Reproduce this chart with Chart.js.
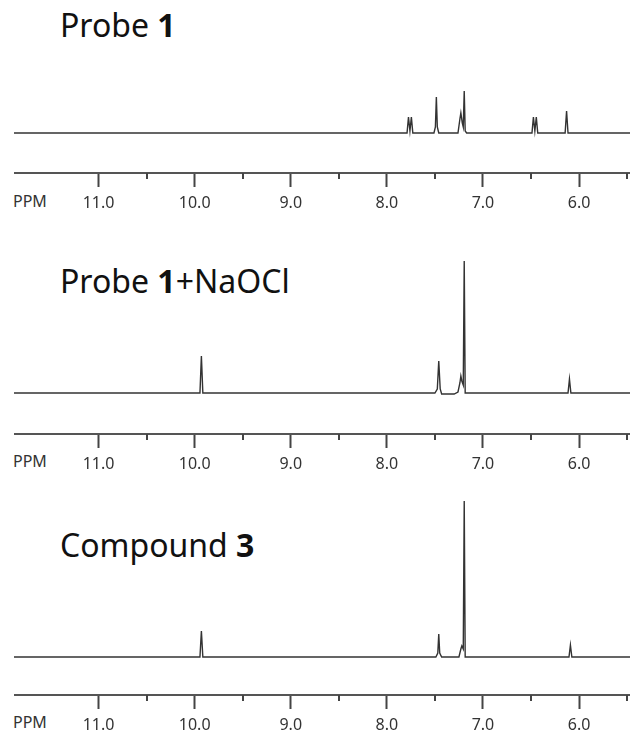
<!DOCTYPE html>
<html>
<head>
<meta charset="utf-8">
<script src="https://cdn.jsdelivr.net/npm/chart.js@4.4.1/dist/chart.umd.min.js"></script>
<style>
body{margin:0;background:#fff;width:630px;height:733px;overflow:hidden;position:relative;font-family:"Noto Sans",sans-serif;}
canvas{position:absolute;left:14px;}
.title{position:absolute;left:60px;font-size:32px;line-height:32px;color:#111;white-space:nowrap;}
.title b{font-weight:bold;}
.ppm{position:absolute;left:13px;font-size:16px;line-height:16px;color:#333;}
</style>
</head>
<body>

<div class="title" style="top:9px">Probe <b>1</b></div>
<div class="title" style="top:265px">Probe <b>1</b>+NaOCl</div>
<div class="title" style="top:529px">Compound <b>3</b></div>

<div class="ppm" style="top:193px">PPM</div>
<div class="ppm" style="top:453px">PPM</div>
<div class="ppm" style="top:714px">PPM</div>

<canvas id="c1" width="616" height="151" style="top:60px"></canvas>
<canvas id="c2" width="616" height="222" style="top:250px"></canvas>
<canvas id="c3" width="616" height="243" style="top:490px"></canvas>

<script>
// ppm axis
var ppmMin = 5.47;
var ppmMax = 11.88;
var majorTicks = [11.0, 10.0, 9.0, 8.0, 7.0, 6.0];
var minorTicks = [10.5, 9.5, 8.5, 7.5, 6.5, 5.5];

// probe 1
var ppm1 = [11.88, 7.79, 7.775, 7.76, 7.745, 7.73, 7.51, 7.495, 7.485, 7.475, 7.46, 7.26, 7.24, 7.23, 7.215, 7.205, 7.195, 7.185, 7.17, 6.49, 6.475, 6.46, 6.445, 6.43, 6.145, 6.13, 6.115, 5.47];
var int1 = [0, 0, 16, 2, 16, 0, 0, 6, 36, 6, 0, 0, 14, 20, 10, 6, 42, 2, 0, 0, 16, 2, 16, 0, 0, 22, 0, 0];

// probe 1 + NaOCl
var ppm2 = [11.88, 9.945, 9.93, 9.915, 7.50, 7.475, 7.46, 7.445, 7.43, 7.30, 7.26, 7.24, 7.23, 7.22, 7.205, 7.195, 7.185, 7.17, 6.115, 6.10, 6.085, 5.47];
var int2 = [0, 0, 37, 0, 0, 4, 32, 4, -1, -1, 1, 10, 17, 12, 8, 132, 0, 0, 0, 14, 0, 0];

// compound 3
var ppm3 = [11.88, 9.945, 9.93, 9.915, 7.49, 7.47, 7.46, 7.45, 7.43, 7.25, 7.23, 7.22, 7.205, 7.195, 7.185, 7.17, 6.105, 6.09, 6.075, 5.47];
var int3 = [0, 0, 26, 0, 0, 4, 23, 4, 0, 0, 8, 11, 8, 156, 0, 0, 0, 12, 0, 0];

Chart.defaults.font.family = "'Noto Sans', sans-serif";

const minorTickPlugin = {
    id: 'minorTicks',
    afterDraw(chart){
        const s = chart.scales.x;
        const ctx = chart.ctx;
        ctx.save();
        ctx.strokeStyle = '#444';
        ctx.lineWidth = 2;
        minorTicks.forEach(v => {
            const px = Math.round(s.getPixelForValue(v));
            ctx.beginPath();
            ctx.moveTo(px, s.top);
            ctx.lineTo(px, s.top + 6);
            ctx.stroke();
        });
        ctx.restore();
    }
};

const drawSpectrum = (id, xs, ys, yMin, yMax) =>{
    var pts = [];
    for(let i=0; i<xs.length; i++)
        pts.push({x: xs[i], y: ys[i]});

    new Chart(id, {
        type: 'line',
        data: {
            datasets: [{
                data: pts,
                borderColor: '#333',
                borderWidth: 1.4,
                pointRadius: 0,
                tension: 0,
                fill: false
            }]
        },
        options: {
            responsive: false,
            animation: false,
            layout: {padding: 0},
            plugins: {legend: {display: false}, tooltip: {enabled: false}},
            scales: {
                x: {
                    type: 'linear',
                    reverse: true,
                    min: ppmMin,
                    max: ppmMax,
                    afterBuildTicks: (scale) => { scale.ticks = majorTicks.map(v => ({value: v})); },
                    afterFit: (scale) => { scale.height = 38; },
                    border: {display: true, color: '#555', width: 2},
                    grid: {drawOnChartArea: false, tickLength: 14, tickWidth: 2, tickColor: '#444'},
                    ticks: {
                        color: '#333',
                        font: {size: 16},
                        padding: 7,
                        maxRotation: 0,
                        callback: (v) => Number(v).toFixed(1)
                    }
                },
                y: {display: false, min: yMin, max: yMax}
            }
        },
        plugins: [minorTickPlugin]
    });
}

drawSpectrum('c1', ppm1, int1, -40, 73);
drawSpectrum('c2', ppm2, int2, -41, 143);
drawSpectrum('c3', ppm3, int3, -38, 167);
</script>
</body>
</html>
